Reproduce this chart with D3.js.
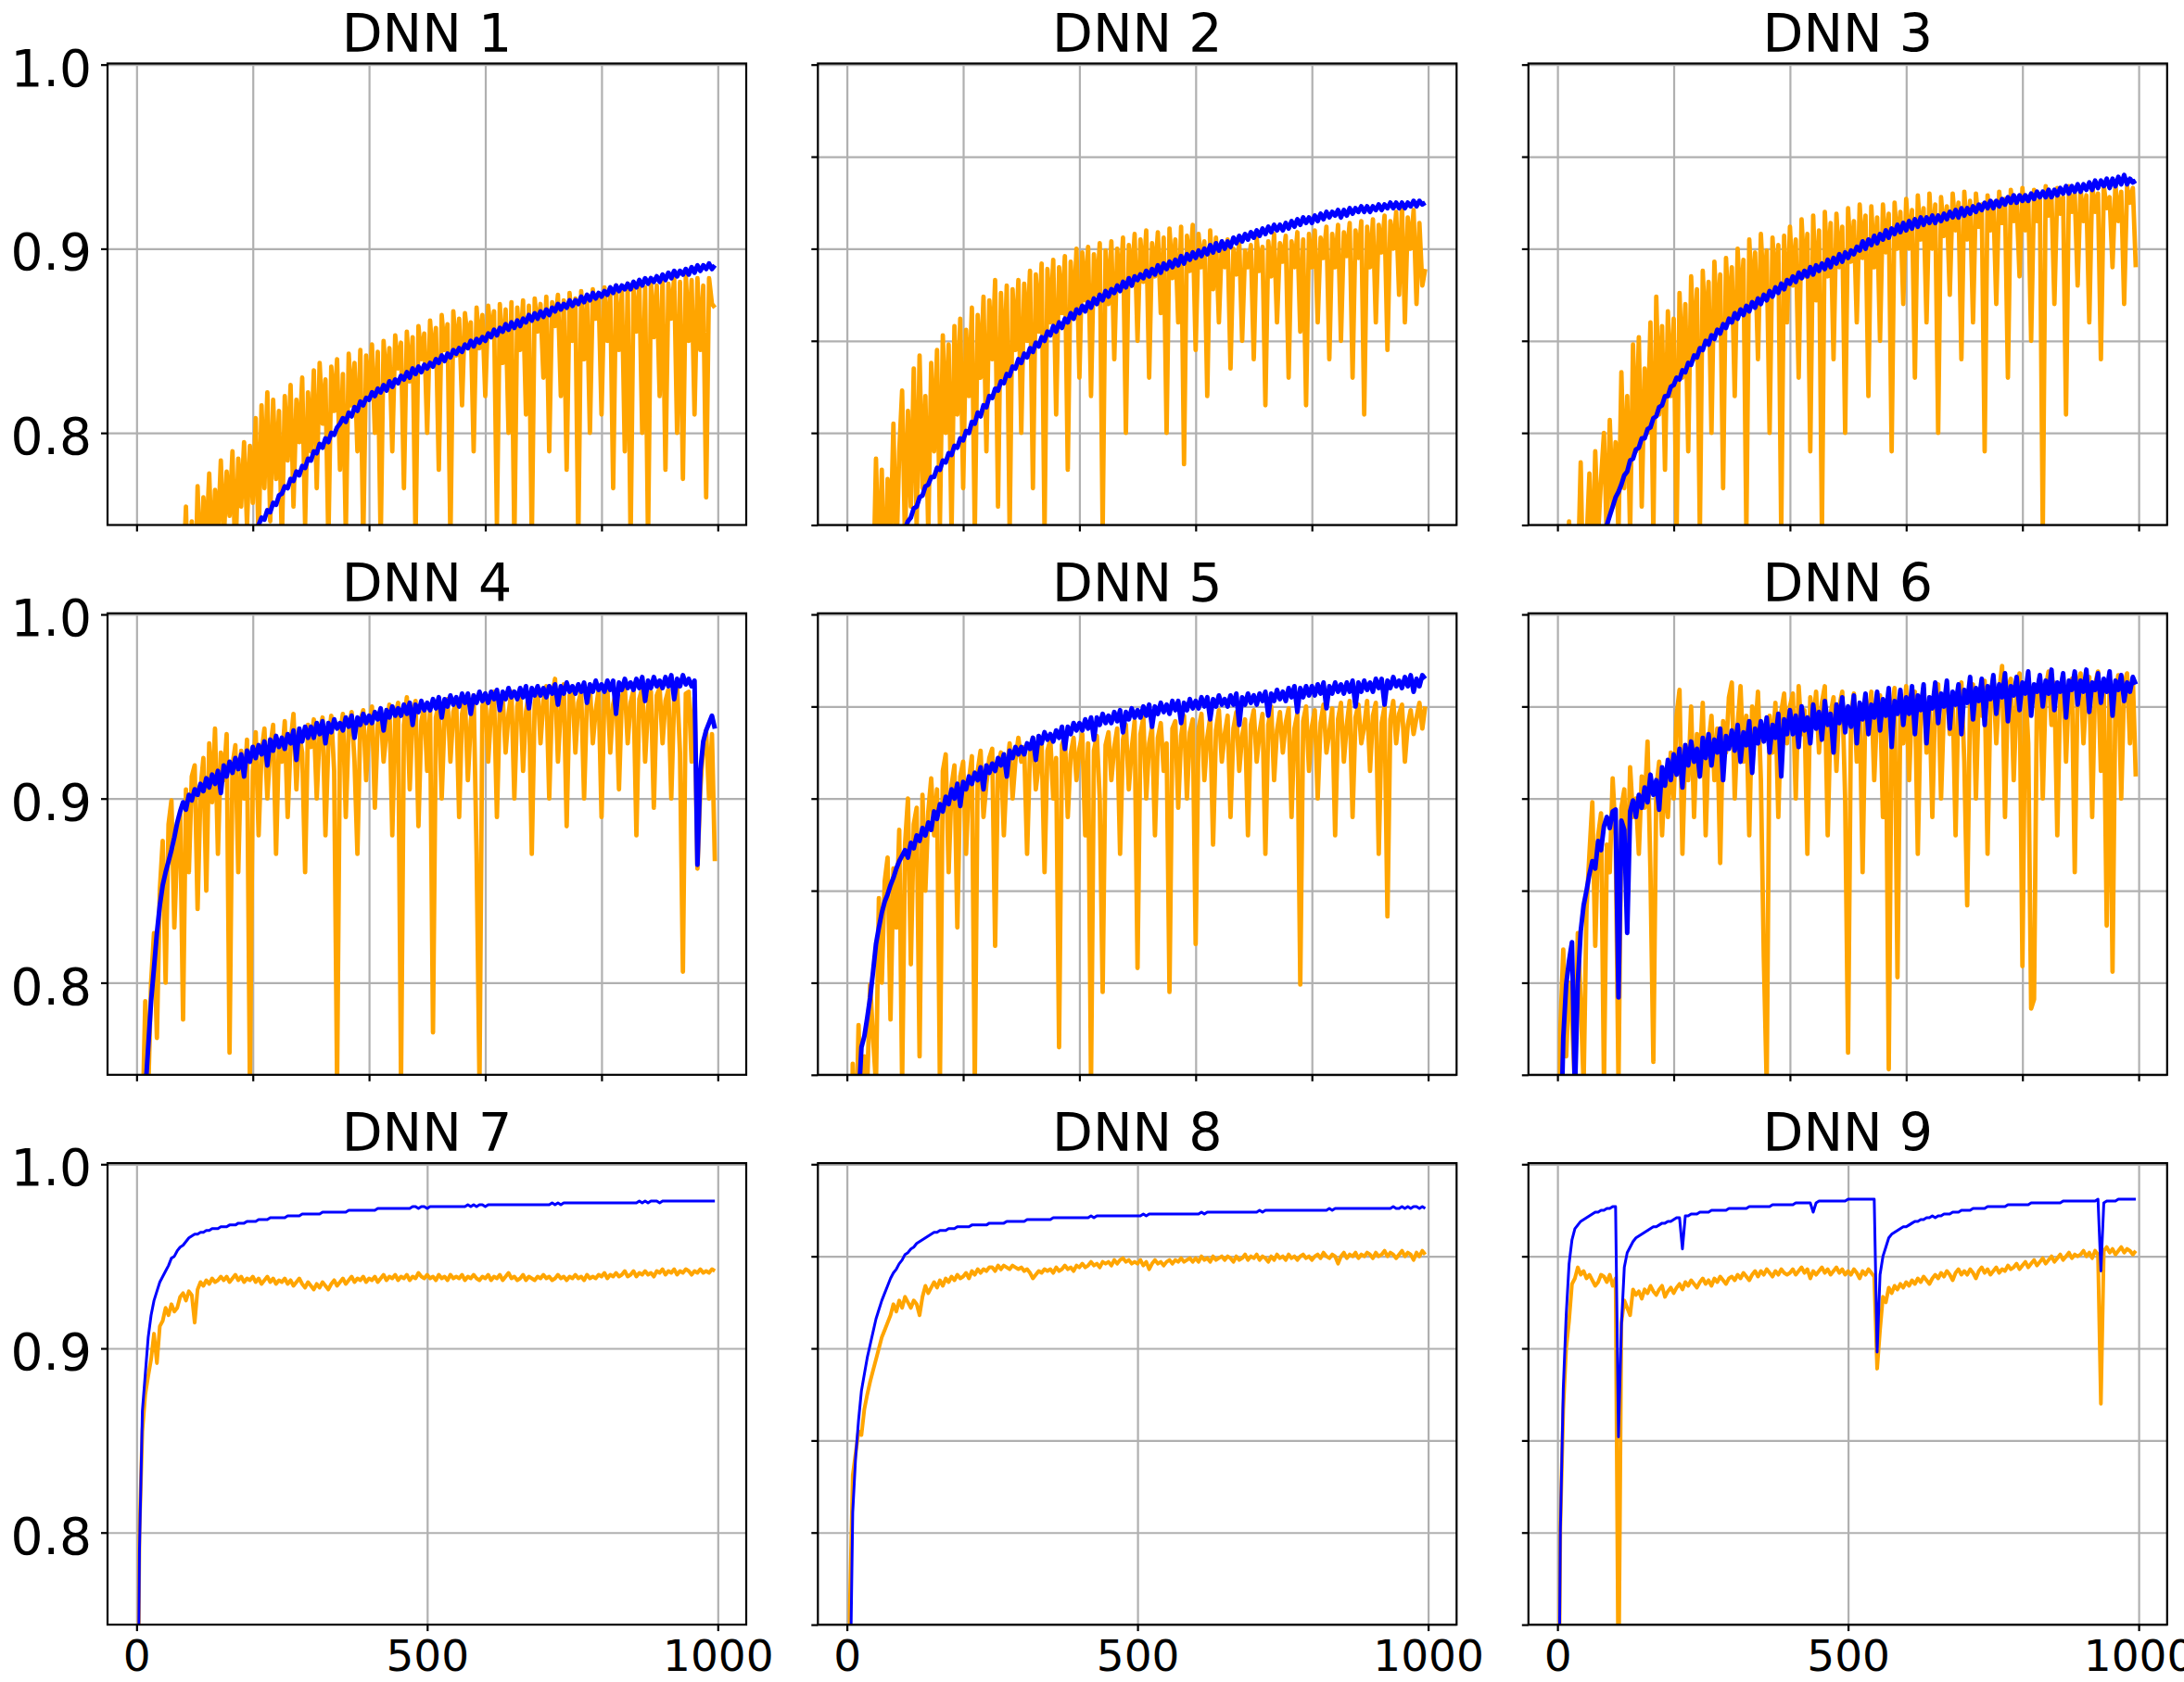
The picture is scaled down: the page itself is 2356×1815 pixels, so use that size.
<!DOCTYPE html>
<html>
<head>
<meta charset="utf-8">
<script src="https://cdn.jsdelivr.net/npm/d3@7"></script>
<style>
  html, body { margin: 0; padding: 0; background: #ffffff; }
  svg { display: block; }
</style>
</head>
<body>
<svg id="chart" width="2356" height="1815"></svg>
<script>
// Accuracy per epoch, one value every EPOCH_STEP epochs (epochs 0..995).
const EPOCH_STEP = 5;

const panelTitles = ["DNN 1", "DNN 2", "DNN 3", "DNN 4", "DNN 5", "DNN 6", "DNN 7", "DNN 8", "DNN 9"];

const xTicksGrid = [0, 200, 400, 600, 800, 1000];
const xTicksBottom = [0, 500, 1000];
const yTicksFirstCol = [0.8, 0.9, 1.0];
const yTicksOtherCols = [0.75, 0.8, 0.85, 0.9, 0.95, 1.0];
const xDomain = [-49.95, 1048.95];
const yDomain = [0.75, 1.0006];

// ---- DNN 1 ----
const trainAcc1 = [
0.550,0.560,0.568,0.577,0.585,0.592,0.600,0.607,0.614,0.620,
0.626,0.632,0.638,0.643,0.648,0.653,0.658,0.662,0.666,0.670,
0.674,0.678,0.682,0.686,0.690,0.694,0.697,0.701,0.704,0.708,
0.711,0.714,0.718,0.721,0.724,0.728,0.731,0.734,0.738,0.741,
0.745,0.748,0.750,0.754,0.753,0.758,0.757,0.762,0.761,0.766,
0.767,0.771,0.770,0.775,0.774,0.779,0.777,0.782,0.781,0.786,
0.785,0.790,0.789,0.794,0.792,0.797,0.795,0.800,0.799,0.803,
0.805,0.808,0.806,0.811,0.809,0.814,0.812,0.817,0.815,0.819,
0.818,0.822,0.820,0.824,0.822,0.826,0.823,0.828,0.825,0.829,
0.827,0.831,0.829,0.833,0.830,0.835,0.832,0.836,0.833,0.837,
0.835,0.838,0.836,0.840,0.838,0.842,0.839,0.843,0.841,0.845,
0.843,0.846,0.844,0.848,0.846,0.850,0.847,0.851,0.849,0.852,
0.850,0.854,0.852,0.856,0.853,0.857,0.855,0.859,0.856,0.860,
0.857,0.861,0.858,0.862,0.860,0.864,0.861,0.865,0.862,0.866,
0.863,0.867,0.864,0.868,0.866,0.870,0.867,0.870,0.868,0.872,
0.869,0.872,0.870,0.874,0.871,0.875,0.872,0.876,0.873,0.876,
0.874,0.877,0.875,0.879,0.876,0.880,0.877,0.880,0.878,0.881,
0.878,0.882,0.879,0.883,0.880,0.884,0.881,0.884,0.882,0.885,
0.882,0.886,0.883,0.887,0.884,0.888,0.885,0.888,0.886,0.889,
0.886,0.890,0.887,0.891,0.888,0.891,0.889,0.892,0.889,0.891];
const valAcc1 = [
0.55,0.58,0.52,0.60,0.57,0.62,0.59,0.63,0.61,0.64,
0.62,0.66,0.63,0.68,0.70,0.66,0.72,0.760,0.69,0.752,
0.70,0.771,0.72,0.765,0.74,0.778,0.73,0.769,0.745,0.785,
0.74,0.779,0.755,0.790,0.73,0.786,0.760,0.795,0.75,0.793,
0.762,0.808,0.74,0.815,0.770,0.822,0.752,0.818,0.775,0.812,
0.74,0.820,0.785,0.826,0.760,0.818,0.795,0.830,0.75,0.822,
0.79,0.834,0.77,0.838,0.805,0.829,0.74,0.836,0.812,0.840,
0.78,0.832,0.745,0.843,0.815,0.838,0.79,0.845,0.74,0.842,
0.82,0.848,0.80,0.844,0.74,0.850,0.825,0.846,0.79,0.853,
0.835,0.849,0.77,0.855,0.828,0.852,0.74,0.858,0.84,0.854,
0.80,0.861,0.838,0.857,0.78,0.864,0.845,0.859,0.74,0.866,
0.842,0.862,0.815,0.865,0.85,0.860,0.79,0.868,0.846,0.864,
0.82,0.869,0.852,0.866,0.75,0.870,0.838,0.867,0.80,0.871,
0.74,0.868,0.845,0.872,0.81,0.869,0.74,0.873,0.855,0.870,
0.83,0.874,0.79,0.871,0.858,0.875,0.82,0.872,0.78,0.876,
0.85,0.873,0.74,0.877,0.84,0.874,0.80,0.878,0.862,0.875,
0.81,0.879,0.85,0.876,0.77,0.880,0.845,0.877,0.79,0.881,
0.74,0.878,0.855,0.882,0.80,0.879,0.74,0.883,0.852,0.880,
0.82,0.884,0.78,0.881,0.862,0.885,0.80,0.882,0.775,0.886,
0.85,0.883,0.81,0.884,0.845,0.880,0.765,0.884,0.87,0.868];

// ---- DNN 2 ----
const trainAcc2 = [
0.600,0.612,0.623,0.634,0.644,0.653,0.662,0.670,0.678,0.686,
0.693,0.700,0.707,0.713,0.719,0.725,0.731,0.736,0.741,0.745,
0.748,0.752,0.754,0.759,0.760,0.765,0.766,0.771,0.772,0.776,
0.776,0.781,0.780,0.785,0.784,0.789,0.788,0.793,0.792,0.797,
0.796,0.801,0.800,0.806,0.805,0.811,0.809,0.815,0.814,0.820,
0.819,0.824,0.823,0.828,0.827,0.832,0.831,0.836,0.835,0.840,
0.838,0.843,0.841,0.846,0.844,0.849,0.847,0.852,0.850,0.855,
0.853,0.858,0.855,0.860,0.857,0.862,0.860,0.865,0.862,0.867,
0.865,0.869,0.866,0.871,0.868,0.873,0.870,0.875,0.872,0.877,
0.874,0.878,0.876,0.880,0.877,0.882,0.879,0.884,0.880,0.885,
0.883,0.886,0.884,0.888,0.885,0.889,0.886,0.891,0.887,0.892,
0.889,0.893,0.890,0.894,0.891,0.896,0.892,0.897,0.894,0.898,
0.895,0.899,0.896,0.900,0.897,0.902,0.898,0.903,0.899,0.904,
0.900,0.904,0.901,0.906,0.903,0.907,0.904,0.908,0.905,0.909,
0.906,0.910,0.907,0.911,0.908,0.912,0.909,0.913,0.910,0.913,
0.910,0.914,0.911,0.915,0.912,0.916,0.913,0.917,0.914,0.917,
0.914,0.918,0.915,0.919,0.916,0.920,0.917,0.920,0.918,0.921,
0.917,0.921,0.918,0.922,0.919,0.922,0.920,0.923,0.920,0.923,
0.920,0.923,0.921,0.924,0.921,0.924,0.922,0.925,0.922,0.925,
0.922,0.925,0.922,0.925,0.923,0.926,0.923,0.926,0.924,0.925];
const valAcc2 = [
0.58,0.62,0.60,0.65,0.63,0.67,0.64,0.69,0.66,0.71,
0.786,0.72,0.780,0.70,0.775,0.74,0.805,0.73,0.790,0.823,
0.74,0.812,0.76,0.835,0.748,0.842,0.77,0.820,0.745,0.838,
0.79,0.845,0.75,0.853,0.80,0.848,0.745,0.858,0.81,0.862,
0.77,0.856,0.82,0.868,0.745,0.864,0.83,0.874,0.79,0.872,
0.84,0.883,0.76,0.876,0.83,0.880,0.745,0.878,0.845,0.883,
0.80,0.881,0.85,0.888,0.77,0.886,0.855,0.892,0.745,0.889,
0.86,0.894,0.81,0.890,0.865,0.896,0.78,0.893,0.862,0.900,
0.83,0.898,0.872,0.901,0.82,0.897,0.875,0.903,0.745,0.899,
0.87,0.904,0.84,0.900,0.878,0.906,0.80,0.902,0.88,0.908,
0.85,0.905,0.882,0.910,0.83,0.903,0.885,0.909,0.865,0.906,
0.80,0.911,0.884,0.905,0.86,0.912,0.783,0.907,0.888,0.913,
0.845,0.908,0.89,0.904,0.82,0.910,0.878,0.906,0.86,0.903,
0.89,0.905,0.835,0.900,0.886,0.904,0.85,0.899,0.89,0.902,
0.84,0.906,0.888,0.901,0.815,0.904,0.885,0.908,0.86,0.903,
0.893,0.907,0.83,0.904,0.89,0.909,0.855,0.905,0.815,0.908,
0.89,0.910,0.86,0.906,0.895,0.912,0.84,0.908,0.89,0.913,
0.85,0.909,0.896,0.914,0.83,0.910,0.895,0.915,0.81,0.912,
0.89,0.916,0.86,0.913,0.898,0.918,0.845,0.915,0.90,0.920,
0.875,0.924,0.86,0.917,0.90,0.921,0.87,0.914,0.88,0.889];

// ---- DNN 3 ----
const trainAcc3 = [
0.600,0.615,0.628,0.641,0.653,0.664,0.674,0.684,0.693,0.702,
0.710,0.717,0.724,0.730,0.736,0.741,0.746,0.750,0.755,0.760,
0.765,0.768,0.772,0.777,0.779,0.785,0.786,0.791,0.792,0.797,
0.797,0.802,0.803,0.808,0.809,0.814,0.815,0.820,0.820,0.825,
0.826,0.830,0.829,0.834,0.833,0.838,0.837,0.842,0.841,0.846,
0.845,0.850,0.848,0.853,0.851,0.856,0.854,0.859,0.857,0.862,
0.860,0.865,0.862,0.867,0.864,0.869,0.866,0.871,0.868,0.873,
0.870,0.875,0.872,0.877,0.874,0.879,0.876,0.881,0.878,0.883,
0.881,0.885,0.882,0.887,0.884,0.888,0.885,0.890,0.886,0.891,
0.888,0.892,0.889,0.894,0.890,0.895,0.892,0.897,0.893,0.898,
0.895,0.899,0.897,0.901,0.899,0.904,0.900,0.905,0.902,0.907,
0.903,0.908,0.905,0.910,0.906,0.911,0.908,0.913,0.909,0.914,
0.910,0.915,0.911,0.916,0.912,0.917,0.913,0.917,0.914,0.918,
0.914,0.918,0.915,0.919,0.916,0.920,0.917,0.921,0.917,0.922,
0.918,0.922,0.919,0.923,0.920,0.924,0.921,0.925,0.922,0.926,
0.922,0.926,0.923,0.927,0.924,0.928,0.925,0.929,0.925,0.929,
0.926,0.929,0.926,0.930,0.927,0.931,0.928,0.931,0.928,0.932,
0.928,0.932,0.929,0.933,0.930,0.934,0.930,0.934,0.931,0.935,
0.931,0.935,0.932,0.936,0.932,0.937,0.933,0.937,0.934,0.938,
0.933,0.938,0.934,0.939,0.935,0.940,0.935,0.938,0.936,0.937];
const valAcc3 = [
0.60,0.64,0.62,0.67,0.752,0.70,0.73,0.72,0.784,0.70,
0.74,0.778,0.72,0.790,0.745,0.775,0.80,0.74,0.807,0.76,
0.795,0.745,0.833,0.77,0.820,0.745,0.848,0.79,0.852,0.76,
0.835,0.80,0.860,0.745,0.874,0.81,0.858,0.78,0.866,0.82,
0.862,0.745,0.876,0.83,0.870,0.79,0.885,0.84,0.878,0.745,
0.888,0.85,0.882,0.80,0.893,0.855,0.886,0.77,0.895,0.86,
0.890,0.82,0.900,0.865,0.894,0.745,0.905,0.87,0.898,0.84,
0.908,0.875,0.899,0.80,0.906,0.878,0.902,0.745,0.907,0.86,
0.912,0.88,0.905,0.83,0.916,0.885,0.908,0.79,0.918,0.872,
0.910,0.745,0.920,0.885,0.914,0.84,0.919,0.89,0.912,0.80,
0.922,0.893,0.915,0.86,0.924,0.895,0.918,0.82,0.923,0.89,
0.917,0.85,0.924,0.898,0.919,0.79,0.925,0.90,0.920,0.87,
0.927,0.90,0.921,0.83,0.929,0.905,0.922,0.86,0.930,0.90,
0.924,0.80,0.928,0.907,0.923,0.875,0.930,0.91,0.925,0.84,
0.931,0.905,0.926,0.86,0.930,0.912,0.924,0.79,0.929,0.91,
0.925,0.87,0.931,0.914,0.927,0.83,0.932,0.915,0.926,0.885,
0.933,0.91,0.928,0.85,0.932,0.915,0.927,0.745,0.934,0.918,
0.929,0.87,0.933,0.919,0.928,0.81,0.934,0.92,0.930,0.88,
0.933,0.915,0.929,0.86,0.935,0.92,0.930,0.84,0.934,0.922,
0.928,0.89,0.935,0.915,0.931,0.87,0.934,0.925,0.933,0.890];

// ---- DNN 4 ----
const trainAcc4 = [
0.550,0.620,0.690,0.740,0.765,0.790,0.808,0.827,0.842,0.853,
0.860,0.866,0.872,0.879,0.887,0.893,0.898,0.894,0.902,0.899,
0.905,0.902,0.908,0.904,0.911,0.906,0.913,0.908,0.915,0.903,
0.918,0.912,0.920,0.914,0.922,0.916,0.924,0.912,0.926,0.920,
0.928,0.922,0.929,0.924,0.931,0.918,0.932,0.926,0.934,0.928,
0.933,0.927,0.935,0.930,0.937,0.921,0.938,0.931,0.939,0.933,
0.939,0.933,0.941,0.935,0.942,0.930,0.941,0.936,0.943,0.938,
0.941,0.937,0.944,0.939,0.945,0.933,0.944,0.940,0.946,0.941,
0.945,0.941,0.947,0.943,0.949,0.937,0.948,0.944,0.950,0.945,
0.949,0.945,0.951,0.946,0.952,0.940,0.951,0.947,0.953,0.948,
0.952,0.948,0.954,0.949,0.955,0.944,0.954,0.950,0.956,0.951,
0.955,0.950,0.957,0.952,0.957,0.946,0.956,0.952,0.958,0.953,
0.957,0.952,0.958,0.954,0.959,0.948,0.958,0.954,0.960,0.955,
0.958,0.954,0.960,0.955,0.961,0.949,0.960,0.956,0.961,0.956,
0.960,0.955,0.961,0.957,0.962,0.951,0.961,0.957,0.963,0.958,
0.961,0.957,0.962,0.958,0.963,0.952,0.962,0.958,0.964,0.959,
0.962,0.958,0.964,0.959,0.964,0.946,0.963,0.959,0.965,0.960,
0.963,0.959,0.965,0.960,0.966,0.953,0.964,0.960,0.966,0.961,
0.964,0.960,0.966,0.961,0.967,0.954,0.965,0.961,0.967,0.962,
0.965,0.961,0.964,0.864,0.915,0.931,0.937,0.941,0.945,0.938];
const valAcc4 = [
0.55,0.65,0.72,0.790,0.74,0.80,0.827,0.77,0.85,0.877,
0.80,0.886,0.899,0.83,0.875,0.892,0.78,0.905,0.86,0.912,
0.918,0.84,0.905,0.922,0.85,0.930,0.898,0.938,0.87,0.925,
0.910,0.935,0.762,0.918,0.929,0.86,0.926,0.900,0.932,0.745,
0.915,0.936,0.88,0.925,0.938,0.90,0.928,0.94,0.87,0.931,
0.920,0.942,0.89,0.930,0.946,0.905,0.935,0.925,0.86,0.940,
0.928,0.943,0.90,0.936,0.944,0.88,0.930,0.945,0.915,0.745,
0.935,0.946,0.89,0.938,0.947,0.92,0.87,0.942,0.948,0.91,
0.937,0.950,0.895,0.940,0.948,0.92,0.936,0.951,0.88,0.944,
0.952,0.745,0.940,0.955,0.905,0.946,0.953,0.885,0.942,0.950,
0.915,0.948,0.773,0.944,0.952,0.90,0.945,0.954,0.92,0.947,
0.953,0.89,0.946,0.955,0.91,0.942,0.956,0.87,0.745,0.950,
0.957,0.92,0.948,0.958,0.89,0.951,0.955,0.925,0.946,0.958,
0.90,0.950,0.959,0.915,0.947,0.957,0.87,0.952,0.960,0.93,
0.953,0.961,0.90,0.955,0.965,0.92,0.950,0.962,0.885,0.956,
0.960,0.925,0.952,0.958,0.90,0.955,0.961,0.93,0.948,0.959,
0.89,0.956,0.960,0.925,0.951,0.958,0.905,0.955,0.961,0.93,
0.952,0.959,0.88,0.954,0.960,0.92,0.950,0.958,0.895,0.956,
0.960,0.93,0.953,0.959,0.90,0.955,0.961,0.925,0.806,0.957,
0.958,0.92,0.955,0.862,0.905,0.928,0.937,0.90,0.935,0.866];

// ---- DNN 5 ----
const trainAcc5 = [
0.550,0.600,0.650,0.700,0.735,0.765,0.771,0.781,0.792,0.806,
0.821,0.830,0.838,0.844,0.848,0.853,0.857,0.862,0.866,0.869,
0.872,0.868,0.876,0.873,0.880,0.877,0.884,0.880,0.887,0.883,
0.893,0.889,0.897,0.893,0.901,0.897,0.905,0.900,0.908,0.896,
0.909,0.905,0.912,0.908,0.914,0.910,0.917,0.905,0.918,0.914,
0.919,0.915,0.922,0.918,0.924,0.912,0.926,0.922,0.928,0.924,
0.928,0.924,0.930,0.927,0.933,0.921,0.934,0.930,0.936,0.932,
0.935,0.931,0.937,0.933,0.939,0.927,0.939,0.935,0.941,0.937,
0.941,0.937,0.943,0.938,0.944,0.932,0.944,0.940,0.946,0.941,
0.945,0.941,0.947,0.942,0.948,0.936,0.947,0.943,0.949,0.944,
0.948,0.944,0.950,0.945,0.951,0.939,0.950,0.946,0.952,0.947,
0.951,0.946,0.953,0.948,0.953,0.941,0.952,0.948,0.954,0.949,
0.953,0.949,0.955,0.950,0.955,0.943,0.954,0.950,0.956,0.951,
0.954,0.950,0.956,0.951,0.957,0.940,0.955,0.951,0.957,0.952,
0.956,0.951,0.957,0.953,0.958,0.945,0.957,0.953,0.959,0.954,
0.958,0.953,0.960,0.955,0.961,0.947,0.960,0.955,0.961,0.956,
0.961,0.956,0.962,0.957,0.963,0.949,0.961,0.957,0.963,0.958,
0.962,0.957,0.963,0.958,0.964,0.950,0.963,0.958,0.964,0.959,
0.963,0.958,0.965,0.960,0.965,0.951,0.964,0.960,0.966,0.961,
0.964,0.960,0.966,0.961,0.967,0.958,0.965,0.961,0.967,0.965];
const valAcc5 = [
0.55,0.62,0.756,0.70,0.777,0.72,0.760,0.745,0.799,0.77,
0.745,0.846,0.80,0.855,0.868,0.78,0.862,0.83,0.883,0.745,
0.875,0.900,0.81,0.886,0.895,0.76,0.902,0.85,0.893,0.911,
0.88,0.905,0.745,0.915,0.924,0.86,0.907,0.918,0.83,0.912,
0.920,0.87,0.910,0.923,0.745,0.915,0.926,0.89,0.908,0.922,
0.927,0.82,0.918,0.925,0.88,0.915,0.930,0.90,0.921,0.933,
0.92,0.928,0.87,0.925,0.933,0.905,0.918,0.930,0.86,0.926,
0.932,0.90,0.922,0.765,0.929,0.934,0.89,0.924,0.933,0.91,
0.927,0.935,0.88,0.930,0.745,0.926,0.934,0.90,0.795,0.929,
0.936,0.91,0.928,0.938,0.87,0.932,0.940,0.905,0.927,0.942,
0.808,0.935,0.944,0.90,0.930,0.939,0.88,0.933,0.941,0.915,
0.930,0.795,0.938,0.942,0.895,0.934,0.945,0.90,0.936,0.943,
0.821,0.938,0.946,0.91,0.933,0.944,0.875,0.937,0.948,0.92,
0.935,0.945,0.89,0.938,0.947,0.915,0.934,0.943,0.88,0.940,
0.948,0.92,0.936,0.946,0.87,0.940,0.950,0.91,0.937,0.947,
0.925,0.941,0.949,0.89,0.938,0.946,0.799,0.942,0.950,0.915,
0.939,0.948,0.90,0.941,0.951,0.925,0.936,0.949,0.88,0.943,
0.952,0.92,0.940,0.953,0.89,0.944,0.951,0.93,0.939,0.953,
0.915,0.945,0.952,0.87,0.941,0.950,0.836,0.943,0.953,0.93,
0.946,0.951,0.92,0.940,0.948,0.935,0.944,0.952,0.938,0.950];

// ---- DNN 6 ----
const trainAcc6 = [
0.600,0.700,0.770,0.799,0.812,0.822,0.740,0.800,0.828,0.842,
0.850,0.859,0.866,0.862,0.877,0.872,0.885,0.890,0.884,0.893,
0.894,0.792,0.888,0.883,0.827,0.893,0.899,0.890,0.902,0.895,
0.906,0.898,0.913,0.902,0.910,0.894,0.917,0.907,0.921,0.910,
0.924,0.913,0.927,0.906,0.929,0.918,0.931,0.920,0.927,0.912,
0.933,0.922,0.935,0.918,0.932,0.925,0.938,0.910,0.934,0.927,
0.937,0.926,0.940,0.920,0.936,0.929,0.942,0.914,0.938,0.930,
0.942,0.931,0.944,0.925,0.940,0.933,0.946,0.912,0.943,0.935,
0.948,0.935,0.945,0.928,0.950,0.937,0.944,0.930,0.951,0.938,
0.947,0.932,0.953,0.940,0.946,0.925,0.951,0.941,0.955,0.936,
0.950,0.939,0.956,0.930,0.952,0.943,0.957,0.935,0.951,0.944,
0.958,0.937,0.954,0.945,0.960,0.928,0.953,0.946,0.959,0.940,
0.955,0.946,0.961,0.935,0.956,0.948,0.962,0.930,0.955,0.949,
0.963,0.941,0.957,0.950,0.964,0.938,0.958,0.951,0.962,0.935,
0.959,0.952,0.966,0.943,0.960,0.953,0.965,0.940,0.961,0.954,
0.967,0.946,0.962,0.955,0.968,0.942,0.961,0.956,0.966,0.948,
0.963,0.957,0.969,0.945,0.962,0.958,0.967,0.950,0.964,0.957,
0.970,0.948,0.963,0.958,0.968,0.944,0.964,0.959,0.969,0.951,
0.964,0.958,0.970,0.947,0.963,0.959,0.968,0.952,0.965,0.958,
0.969,0.945,0.964,0.959,0.967,0.953,0.963,0.958,0.966,0.962];
const valAcc6 = [
0.60,0.775,0.818,0.76,0.80,0.78,0.745,0.827,0.79,0.745,
0.84,0.87,0.898,0.82,0.880,0.892,0.745,0.875,0.860,0.911,
0.88,0.745,0.895,0.905,0.85,0.917,0.89,0.900,0.87,0.912,
0.895,0.931,0.86,0.757,0.905,0.920,0.88,0.915,0.89,0.925,
0.90,0.945,0.959,0.87,0.928,0.910,0.950,0.89,0.935,0.92,
0.952,0.88,0.930,0.945,0.91,0.938,0.865,0.942,0.925,0.955,
0.963,0.90,0.940,0.961,0.92,0.945,0.88,0.950,0.935,0.958,
0.91,0.814,0.745,0.945,0.925,0.952,0.89,0.947,0.957,0.93,
0.950,0.957,0.90,0.961,0.935,0.948,0.87,0.955,0.94,0.958,
0.925,0.952,0.961,0.88,0.946,0.955,0.915,0.950,0.958,0.90,
0.762,0.945,0.957,0.92,0.951,0.86,0.955,0.940,0.958,0.91,
0.948,0.956,0.89,0.952,0.753,0.945,0.960,0.803,0.950,0.93,
0.961,0.91,0.953,0.958,0.87,0.950,0.960,0.925,0.955,0.89,
0.957,0.962,0.90,0.950,0.960,0.935,0.955,0.88,0.958,0.963,
0.92,0.842,0.955,0.962,0.90,0.958,0.945,0.964,0.87,0.956,
0.966,0.93,0.958,0.972,0.89,0.960,0.965,0.91,0.955,0.968,
0.809,0.962,0.930,0.786,0.791,0.958,0.966,0.90,0.960,0.969,
0.94,0.963,0.88,0.958,0.967,0.92,0.961,0.965,0.86,0.962,
0.968,0.93,0.959,0.966,0.89,0.962,0.969,0.915,0.960,0.831,
0.963,0.806,0.958,0.967,0.90,0.962,0.968,0.93,0.965,0.912];

// ---- DNN 7 ----
const trainAcc7 = [
0.600,0.790,0.866,0.886,0.906,0.918,0.926,0.931,0.936,0.939,
0.942,0.945,0.949,0.950,0.953,0.955,0.956,0.958,0.960,0.961,
0.962,0.962,0.963,0.963,0.964,0.964,0.965,0.965,0.965,0.966,
0.966,0.966,0.967,0.967,0.967,0.968,0.968,0.968,0.969,0.969,
0.969,0.969,0.970,0.970,0.970,0.970,0.971,0.971,0.971,0.971,
0.971,0.971,0.972,0.972,0.972,0.972,0.972,0.973,0.973,0.973,
0.973,0.973,0.973,0.973,0.974,0.974,0.974,0.974,0.974,0.974,
0.974,0.974,0.974,0.975,0.975,0.975,0.975,0.975,0.975,0.975,
0.975,0.975,0.975,0.976,0.976,0.976,0.976,0.976,0.976,0.976,
0.976,0.976,0.976,0.976,0.976,0.977,0.977,0.976,0.977,0.977,
0.976,0.977,0.977,0.977,0.977,0.977,0.977,0.977,0.977,0.977,
0.977,0.977,0.977,0.977,0.978,0.977,0.978,0.977,0.978,0.978,
0.977,0.978,0.978,0.978,0.978,0.978,0.978,0.978,0.978,0.978,
0.978,0.978,0.978,0.978,0.978,0.978,0.978,0.978,0.978,0.978,
0.978,0.978,0.978,0.979,0.978,0.979,0.978,0.979,0.979,0.979,
0.979,0.979,0.979,0.979,0.979,0.979,0.979,0.979,0.979,0.979,
0.979,0.979,0.979,0.979,0.979,0.979,0.979,0.979,0.979,0.979,
0.979,0.979,0.979,0.980,0.979,0.980,0.979,0.980,0.980,0.980,
0.979,0.980,0.980,0.980,0.980,0.980,0.980,0.980,0.980,0.980,
0.980,0.980,0.980,0.980,0.980,0.980,0.980,0.980,0.980,0.980];
const valAcc7 = [
0.600,0.800,0.855,0.875,0.885,0.894,0.908,0.892,0.912,0.915,
0.922,0.918,0.924,0.920,0.922,0.928,0.930,0.926,0.931,0.929,
0.914,0.932,0.936,0.934,0.937,0.935,0.938,0.936,0.937,0.939,
0.937,0.939,0.936,0.938,0.940,0.937,0.939,0.936,0.938,0.937,
0.939,0.936,0.938,0.935,0.937,0.939,0.936,0.938,0.935,0.937,
0.936,0.938,0.935,0.937,0.934,0.936,0.938,0.935,0.933,0.936,
0.934,0.932,0.935,0.933,0.936,0.934,0.932,0.935,0.937,0.934,
0.936,0.938,0.935,0.937,0.939,0.936,0.938,0.937,0.939,0.936,
0.938,0.937,0.939,0.936,0.938,0.940,0.937,0.939,0.938,0.940,
0.937,0.939,0.938,0.940,0.937,0.939,0.938,0.941,0.939,0.938,
0.940,0.938,0.939,0.937,0.940,0.938,0.939,0.937,0.940,0.938,
0.939,0.938,0.940,0.937,0.939,0.938,0.940,0.938,0.937,0.939,
0.938,0.940,0.937,0.939,0.938,0.940,0.937,0.939,0.941,0.938,
0.939,0.937,0.938,0.940,0.937,0.939,0.938,0.937,0.939,0.938,
0.940,0.938,0.939,0.937,0.938,0.940,0.938,0.939,0.937,0.939,
0.938,0.940,0.938,0.939,0.937,0.940,0.938,0.939,0.938,0.940,
0.939,0.941,0.938,0.940,0.939,0.941,0.939,0.940,0.942,0.939,
0.940,0.942,0.939,0.941,0.940,0.942,0.940,0.941,0.939,0.942,
0.941,0.943,0.940,0.942,0.941,0.943,0.940,0.942,0.941,0.943,
0.942,0.940,0.942,0.941,0.943,0.941,0.942,0.941,0.943,0.942];

// ---- DNN 8 ----
const trainAcc8 = [
0.550,0.700,0.811,0.841,0.861,0.877,0.886,0.895,0.902,0.909,
0.916,0.921,0.926,0.930,0.934,0.938,0.941,0.943,0.946,0.948,
0.951,0.952,0.954,0.955,0.957,0.958,0.959,0.960,0.961,0.962,
0.963,0.963,0.964,0.964,0.964,0.965,0.965,0.965,0.966,0.966,
0.966,0.966,0.966,0.967,0.967,0.967,0.967,0.967,0.967,0.968,
0.968,0.968,0.968,0.968,0.968,0.969,0.969,0.969,0.969,0.969,
0.969,0.969,0.970,0.970,0.970,0.970,0.970,0.970,0.970,0.970,
0.970,0.971,0.971,0.971,0.971,0.971,0.971,0.971,0.971,0.971,
0.971,0.971,0.971,0.971,0.972,0.971,0.972,0.972,0.972,0.972,
0.972,0.972,0.972,0.972,0.972,0.972,0.972,0.972,0.972,0.972,
0.972,0.972,0.973,0.972,0.973,0.973,0.973,0.973,0.973,0.973,
0.973,0.973,0.973,0.973,0.973,0.973,0.973,0.973,0.973,0.973,
0.973,0.973,0.974,0.973,0.974,0.974,0.974,0.974,0.974,0.974,
0.974,0.974,0.974,0.974,0.974,0.974,0.974,0.974,0.974,0.974,
0.974,0.974,0.975,0.974,0.975,0.975,0.975,0.975,0.975,0.975,
0.975,0.975,0.975,0.975,0.975,0.975,0.975,0.975,0.975,0.975,
0.975,0.975,0.975,0.975,0.975,0.975,0.976,0.975,0.976,0.976,
0.976,0.976,0.976,0.976,0.976,0.976,0.976,0.976,0.976,0.976,
0.976,0.976,0.976,0.976,0.976,0.976,0.976,0.976,0.977,0.976,
0.976,0.977,0.976,0.977,0.976,0.977,0.977,0.976,0.977,0.976];
const valAcc8 = [
0.550,0.760,0.831,0.843,0.855,0.853,0.867,0.875,0.882,0.888,
0.894,0.900,0.906,0.910,0.914,0.918,0.924,0.920,0.926,0.922,
0.928,0.925,0.922,0.926,0.924,0.918,0.928,0.934,0.930,0.933,
0.936,0.933,0.937,0.934,0.938,0.936,0.939,0.937,0.940,0.938,
0.939,0.941,0.938,0.942,0.940,0.943,0.941,0.943,0.942,0.944,
0.944,0.942,0.945,0.943,0.945,0.944,0.943,0.945,0.944,0.943,
0.944,0.942,0.943,0.941,0.938,0.940,0.942,0.941,0.943,0.942,
0.943,0.941,0.944,0.942,0.943,0.945,0.943,0.944,0.942,0.945,
0.944,0.946,0.944,0.945,0.947,0.945,0.946,0.944,0.947,0.946,
0.947,0.945,0.948,0.946,0.948,0.949,0.947,0.948,0.946,0.947,
0.946,0.948,0.945,0.947,0.943,0.946,0.948,0.946,0.947,0.945,
0.947,0.948,0.946,0.948,0.947,0.949,0.947,0.948,0.949,0.947,
0.949,0.947,0.950,0.948,0.949,0.947,0.950,0.948,0.949,0.950,
0.948,0.950,0.949,0.947,0.950,0.948,0.949,0.951,0.948,0.950,
0.949,0.951,0.948,0.950,0.949,0.947,0.950,0.948,0.951,0.949,
0.950,0.948,0.951,0.949,0.950,0.948,0.950,0.951,0.949,0.950,
0.948,0.950,0.951,0.949,0.952,0.950,0.949,0.951,0.950,0.946,
0.950,0.952,0.949,0.951,0.950,0.952,0.949,0.951,0.950,0.952,
0.951,0.949,0.952,0.950,0.951,0.953,0.950,0.952,0.951,0.949,
0.951,0.953,0.950,0.952,0.951,0.948,0.952,0.950,0.953,0.951];

// ---- DNN 9 ----
const trainAcc9 = [
0.600,0.801,0.878,0.918,0.946,0.959,0.965,0.967,0.969,0.970,
0.971,0.972,0.973,0.974,0.974,0.975,0.975,0.976,0.976,0.977,
0.977,0.852,0.912,0.944,0.952,0.955,0.958,0.960,0.961,0.962,
0.963,0.964,0.965,0.966,0.966,0.967,0.968,0.968,0.969,0.969,
0.970,0.971,0.971,0.954,0.972,0.972,0.973,0.973,0.973,0.974,
0.974,0.974,0.974,0.975,0.975,0.975,0.975,0.975,0.975,0.976,
0.976,0.976,0.976,0.976,0.976,0.976,0.977,0.977,0.977,0.977,
0.977,0.977,0.977,0.977,0.978,0.978,0.978,0.978,0.978,0.978,
0.978,0.978,0.979,0.979,0.979,0.979,0.979,0.979,0.974,0.979,
0.980,0.980,0.980,0.980,0.980,0.980,0.980,0.980,0.980,0.980,
0.981,0.981,0.981,0.981,0.981,0.981,0.981,0.981,0.981,0.981,
0.898,0.940,0.950,0.955,0.960,0.962,0.963,0.964,0.965,0.966,
0.966,0.967,0.968,0.969,0.969,0.970,0.970,0.971,0.971,0.972,
0.971,0.972,0.972,0.973,0.973,0.973,0.974,0.974,0.974,0.975,
0.975,0.975,0.975,0.976,0.976,0.976,0.976,0.976,0.977,0.977,
0.977,0.977,0.977,0.977,0.977,0.978,0.978,0.978,0.978,0.978,
0.978,0.978,0.978,0.979,0.979,0.979,0.979,0.979,0.979,0.979,
0.979,0.979,0.979,0.979,0.980,0.980,0.980,0.980,0.980,0.980,
0.980,0.980,0.980,0.980,0.980,0.980,0.981,0.942,0.979,0.980,
0.980,0.980,0.980,0.981,0.981,0.981,0.981,0.981,0.981,0.981];
const valAcc9 = [
0.600,0.803,0.867,0.900,0.915,0.935,0.938,0.944,0.940,0.942,
0.938,0.940,0.937,0.934,0.936,0.940,0.939,0.936,0.940,0.934,
0.938,0.700,0.914,0.926,0.922,0.918,0.932,0.929,0.931,0.927,
0.932,0.930,0.934,0.931,0.929,0.932,0.934,0.928,0.931,0.933,
0.930,0.933,0.935,0.932,0.936,0.934,0.937,0.935,0.933,0.936,
0.938,0.935,0.937,0.934,0.938,0.936,0.939,0.937,0.935,0.938,
0.939,0.937,0.940,0.938,0.941,0.939,0.937,0.940,0.942,0.939,
0.942,0.940,0.943,0.941,0.939,0.942,0.940,0.943,0.941,0.940,
0.941,0.943,0.940,0.942,0.944,0.941,0.943,0.938,0.942,0.940,
0.942,0.944,0.941,0.943,0.940,0.942,0.944,0.941,0.943,0.940,
0.942,0.940,0.943,0.941,0.938,0.942,0.940,0.943,0.941,0.939,
0.889,0.910,0.928,0.925,0.933,0.930,0.934,0.932,0.935,0.933,
0.936,0.934,0.937,0.935,0.938,0.936,0.939,0.937,0.935,0.938,
0.940,0.938,0.941,0.939,0.942,0.940,0.937,0.941,0.943,0.940,
0.942,0.940,0.943,0.941,0.938,0.942,0.944,0.941,0.943,0.940,
0.942,0.944,0.941,0.943,0.942,0.945,0.943,0.944,0.946,0.943,
0.945,0.947,0.944,0.946,0.948,0.945,0.947,0.949,0.946,0.948,
0.950,0.947,0.949,0.951,0.948,0.950,0.952,0.949,0.951,0.950,
0.951,0.953,0.950,0.952,0.949,0.953,0.951,0.870,0.953,0.955,
0.952,0.954,0.951,0.953,0.955,0.952,0.954,0.953,0.951,0.953];

const trainSeries = [trainAcc1, trainAcc2, trainAcc3, trainAcc4, trainAcc5, trainAcc6, trainAcc7, trainAcc8, trainAcc9];
const valSeries = [valAcc1, valAcc2, valAcc3, valAcc4, valAcc5, valAcc6, valAcc7, valAcc8, valAcc9];

// ---- layout ----
const FONT = "DejaVu Sans, Liberation Sans, sans-serif";
const panelW = 689, panelH = 498;
const colLeft = [116, 882.3, 1648.8];
const rowTop = [68.5, 661.8, 1255.1];
const gridColor = "#b0b0b0";

const svg = d3.select("#chart");
svg.append("rect").attr("width", 2356).attr("height", 1815).attr("fill", "#ffffff");

const x = d3.scaleLinear().domain(xDomain).range([0, panelW]);
const y = d3.scaleLinear().domain(yDomain).range([panelH, 0]);

const line = d3.line()
  .x((d, i) => x(i * EPOCH_STEP))
  .y(d => y(d));

panelTitles.forEach((title, k) => {
  const row = Math.floor(k / 3), col = k % 3;
  const isBottom = row === 2, isFirstCol = col === 0;
  const g = svg.append("g").attr("transform", `translate(${colLeft[col]},${rowTop[row]})`);

  const xTicks = isBottom ? xTicksBottom : xTicksGrid;
  const yTicks = isFirstCol ? yTicksFirstCol : yTicksOtherCols;

  // grid
  const gx = g.append("g").attr("transform", `translate(0,${panelH})`)
    .call(d3.axisBottom(x).tickValues(xTicks).tickSize(-panelH).tickFormat(""));
  const gy = g.append("g")
    .call(d3.axisLeft(y).tickValues(yTicks).tickSize(-panelW).tickFormat(""));
  [gx, gy].forEach(a => {
    a.select(".domain").remove();
    a.selectAll(".tick line").attr("stroke", gridColor).attr("stroke-width", 2.2);
  });

  // curves: the jittery runs of the top two rows are drawn as a heavier band
  const noisy = row < 2;
  const clipId = `clip-${k}`;
  g.append("clipPath").attr("id", clipId)
    .append("rect").attr("width", panelW).attr("height", panelH);
  const plot = g.append("g").attr("clip-path", `url(#${clipId})`);
  plot.append("path").datum(valSeries[k])
    .attr("d", line).attr("fill", "none").attr("stroke", "orange")
    .attr("stroke-width", noisy ? 4.8 : 4.0).attr("stroke-linejoin", "round");
  plot.append("path").datum(trainSeries[k])
    .attr("d", line).attr("fill", "none").attr("stroke", "blue")
    .attr("stroke-width", noisy ? 5.0 : 3.0).attr("stroke-linejoin", "round");

  // tick marks and labels
  const ax = g.append("g").attr("transform", `translate(0,${panelH})`)
    .call(d3.axisBottom(x).tickValues(xTicks).tickSize(7).tickPadding(10)
      .tickFormat(isBottom ? d3.format("d") : ""));
  const ay = g.append("g")
    .call(d3.axisLeft(y).tickValues(yTicks).tickSize(7).tickPadding(10)
      .tickFormat(isFirstCol ? d3.format(".1f") : ""));
  [ax, ay].forEach(a => {
    a.select(".domain").remove();
    a.selectAll(".tick line").attr("stroke", "#000").attr("stroke-width", 2.2);
    a.selectAll(".tick text").attr("fill", "#000").attr("font-family", FONT);
  });
  ax.selectAll(".tick text").attr("font-size", 47);
  ay.selectAll(".tick text").attr("font-size", 55).attr("dy", "0.41em");

  // frame
  g.append("rect").attr("width", panelW).attr("height", panelH)
    .attr("fill", "none").attr("stroke", "#000").attr("stroke-width", 2.2);

  // title
  g.append("text").attr("x", panelW / 2).attr("y", -13)
    .attr("text-anchor", "middle").attr("font-family", FONT)
    .attr("font-size", 57).attr("fill", "#000").text(title);
});
</script>
</body>
</html>
